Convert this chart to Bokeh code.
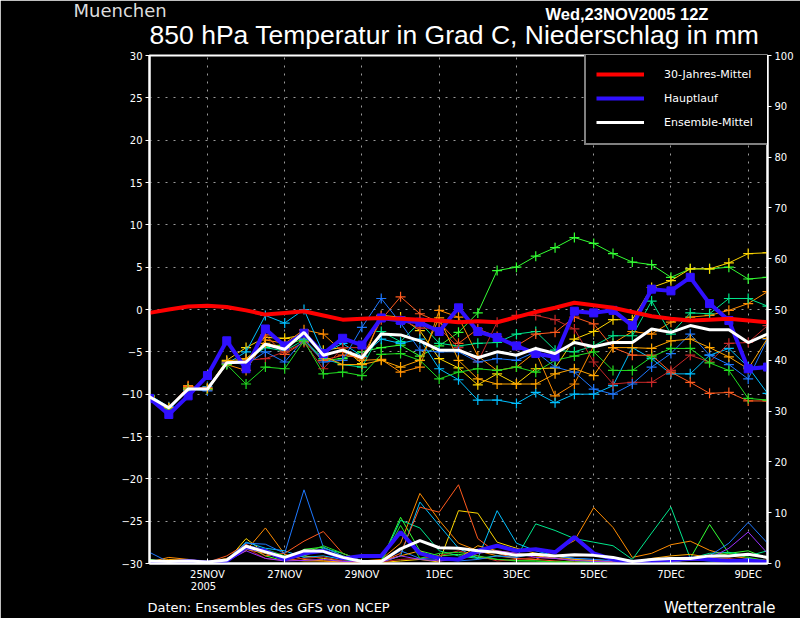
import numpy as np
from bokeh.plotting import figure
from bokeh.models import (Range1d, LinearAxis, FixedTicker, SingleIntervalTicker,
                          Legend, LegendItem, Label)
from bokeh.embed import file_html
from bokeh.resources import INLINE

# time axis: days after 23NOV2005 00Z, 12-hourly from 23NOV 12Z to 9DEC 12Z
days = np.arange(0.5, 16.51, 0.5)
tick_days = [2, 4, 6, 8, 10, 12, 14, 16]
tick_labels = ["25NOV", "27NOV", "29NOV", "1DEC", "3DEC", "5DEC", "7DEC", "9DEC"]
year_label = "2005"

# 850 hPa temperature (deg C)
climate = [-0.4, 0.0, 0.35, 0.45, 0.3, -0.1, -0.6, -0.4, -0.2, -0.7, -1.2, -1.1, -1.0, -1.1, -1.2,
           -1.3, -1.5, -1.4, -1.5, -0.9, -0.3, 0.2, 0.8, 0.5, 0.2, -0.3, -0.8, -1.1, -1.3, -1.2,
           -1.1, -1.3, -1.5]
haupt = [-10.5, -12.4, -10.2, -7.8, -3.7, -7.0, -2.3, -4.3, -2.8, -5.2, -3.4, -4.2, -1.0, -1.3,
         -1.5, -2.6, 0.2, -2.6, -3.3, -4.3, -5.2, -5.6, -0.2, -0.4, -0.1, -1.9, 2.4, 2.2, 3.8,
         0.7, -1.3, -7.0, -6.8]
ens_mean = [-10.3, -11.6, -9.4, -9.4, -6.3, -6.2, -4.1, -4.7, -2.7, -5.4, -4.8, -5.7, -2.9, -3.0,
            -3.7, -4.8, -4.8, -5.7, -5.0, -5.4, -4.6, -5.2, -3.9, -4.4, -3.9, -3.9, -2.3, -2.7,
            -1.9, -2.4, -2.4, -3.9, -2.9]

member_colors = ["#33ff33", "#ffd700", "#ff8c00", "#00e68c", "#00bfff",
                 "#ff5a1e", "#c82828", "#1e78ff", "#22dd22", "#ffa500"]
members = [
    [-10.4, -11.8, -9.5, -9.4, -6.4, -5.8, -4.3, -4.2, -3.5, -6.0, -5.8, -5.0, -4.5, -4.2, -5.5,
     -4.3, -2.7, -0.4, 4.6, 5.0, 6.3, 7.3, 8.5, 7.8, 6.6, 5.6, 5.3, 3.8, 4.8, 4.8, 5.0, 3.6, 3.8],
    [-10.2, -11.6, -9.2, -9.3, -6.0, -4.5, -3.3, -3.4, -3.0, -4.8, -4.5, -6.4, -0.7, -0.9, -2.5,
     -5.8, -6.9, -8.9, -7.6, -8.8, -7.0, -6.9, -3.5, -2.6, -1.2, -1.2, 2.6, 3.4, 4.8, 4.8, 5.5,
     6.6, 6.7],
    [-10.3, -11.9, -9.0, -9.5, -6.5, -7.2, -3.6, -4.0, -2.4, -2.9, -5.0, -6.0, -5.9, -7.4, -6.8,
     -0.1, -0.9, -5.5, -7.2, -6.8, -5.0, -10.2, -8.8, -4.3, -4.0, -2.6, -2.9, -1.5, -0.9, -0.7,
     -0.1, 0.7, 2.1],
    [-10.2, -11.7, -9.4, -9.3, -6.2, -6.0, -4.5, -4.9, -3.6, -5.8, -6.5, -6.8, -2.6, -3.8, -1.5,
     -4.0, -4.3, -4.0, -3.9, -2.9, -2.6, -4.8, -5.0, -4.3, -3.1, -3.1, 1.0, -2.9, -0.4, -0.5,
     1.3, 1.3, 0.4],
    [-10.1, -11.5, -9.6, -9.1, -6.4, -5.0, -0.7, -1.6, 0.0, -5.2, -4.0, -5.5, -3.5, -4.0, -3.5,
     -7.0, -8.3, -10.7, -10.7, -11.1, -9.8, -11.0, -10.0, -10.0, -9.0, -4.5, -5.8, -7.6, -7.6,
     -5.4, -4.6, -6.8, -9.9],
    [-10.4, -11.6, -9.1, -9.5, -6.3, -6.2, -3.0, -5.3, -3.8, -6.0, -5.4, -5.7, -1.2, 1.5, -0.5,
     -1.5, -4.0, -2.3, -3.2, -4.3, -2.9, -2.7, -0.9, -1.7, -4.5, -5.4, -5.4, -7.4, -8.6, -9.9,
     -9.8, -10.8, -10.8],
    [-10.3, -11.8, -9.3, -9.2, -6.2, -6.0, -5.8, -5.0, -3.9, -7.0, -4.5, -4.5, -0.8, -1.2, -2.2,
     -2.2, -4.5, -6.2, -1.5, -0.7, -0.7, -1.2, -2.3, -6.2, -8.8, -8.6, -8.6, -7.2, -5.4, -6.2,
     -4.0, -3.9, -1.9],
    [-10.5, -11.9, -9.4, -9.6, -6.2, -6.5, -5.0, -6.2, -3.5, -6.2, -6.0, -2.1, 1.3, -1.6, -4.8,
     -5.0, -5.0, -6.2, -5.8, -6.0, -5.0, -6.8, -7.4, -9.4, -10.0, -8.8, -6.8, -5.2, -2.9, -5.4,
     -6.5, -8.2, -3.5],
    [-10.2, -11.7, -9.3, -9.4, -6.5, -8.8, -6.8, -7.0, -3.7, -7.6, -7.4, -7.8, -5.3, -5.2, -6.0,
     -8.2, -7.4, -7.0, -7.2, -6.8, -7.4, -6.0, -5.5, -5.0, -7.2, -7.2, -5.6, -4.6, -4.6, -6.3,
     -7.2, -10.5, -10.7],
    [-10.3, -11.6, -9.4, -9.3, -6.1, -5.8, -4.0, -4.5, -2.8, -5.5, -6.5, -6.5, -6.0, -6.8, -6.0,
     -1.0, -6.0, -8.2, -8.8, -8.8, -8.8, -7.6, -7.0, -7.8, -4.5, -4.5, -4.6, -3.7, -3.5, -4.5,
     -5.6, -7.0, -3.4],
]

# precipitation (mm), right axis
precip_members = [
    [0.8, 0.3, 0.2, 0.2, 0.8, 3.5, 1.5, 0.5, 2.8, 3.2, 1.5, 0.3, 0.5, 9.1, 2.5, 1.5, 1.8, 1.2,
     0.8, 0.5, 0.5, 0.3, 0.2, 0.2, 0.3, 0.2, 0.5, 0.8, 1.0, 7.7, 2.0, 2.5, 1.0],
    [0.2, 0.5, 0.8, 0.3, 0.5, 4.9, 2.0, 0.8, 1.5, 1.0, 0.5, 0.3, 0.2, 0.5, 0.8, 0.3, 10.4, 9.9,
     4.2, 3.0, 2.0, 1.5, 0.8, 0.5, 0.3, 0.2, 0.5, 0.8, 1.2, 0.8, 0.5, 0.8, 0.5],
    [0.3, 1.2, 0.8, 0.3, 0.8, 2.5, 7.0, 1.8, 0.8, 0.5, 0.3, 0.5, 0.8, 4.0, 13.8, 8.5, 4.0, 2.5,
     1.5, 1.0, 0.8, 2.5, 4.5, 11.0, 7.1, 1.2, 2.0, 3.7, 4.4, 2.6, 1.5, 1.0, 0.6],
    [0.5, 0.3, 0.2, 0.3, 0.5, 3.0, 2.5, 1.0, 1.5, 3.0, 2.0, 0.5, 0.5, 8.5, 7.0, 2.5, 1.5, 1.0,
     1.5, 1.2, 7.8, 6.5, 4.9, 4.2, 3.5, 0.8, 6.0, 11.1, 1.0, 2.0, 2.2, 1.5, 2.5],
    [0.2, 0.3, 0.5, 0.2, 0.6, 4.2, 3.0, 2.5, 1.2, 1.5, 0.8, 0.3, 0.2, 1.5, 12.1, 7.5, 3.0, 1.0,
     10.4, 4.0, 2.5, 1.5, 1.0, 0.8, 0.5, 0.3, 0.5, 0.3, 0.8, 0.5, 0.3, 1.0, 0.5],
    [0.2, 0.5, 0.3, 0.2, 1.5, 3.8, 1.5, 2.0, 4.4, 6.3, 2.0, 0.5, 0.3, 2.0, 11.1, 10.1, 15.5, 4.9,
     2.0, 1.0, 0.8, 0.5, 0.3, 0.5, 0.3, 0.2, 0.3, 0.5, 0.8, 0.6, 0.5, 0.8, 0.5],
    [0.3, 0.2, 0.5, 0.2, 0.6, 3.0, 1.0, 0.6, 1.0, 1.3, 0.5, 0.2, 0.3, 0.8, 1.0, 1.5, 2.5, 1.5,
     0.5, 0.8, 1.2, 1.0, 0.5, 0.8, 0.3, 0.2, 0.3, 0.5, 0.8, 0.6, 1.0, 0.5, 0.3],
    [2.2, 0.3, 0.2, 0.2, 0.8, 4.0, 3.8, 2.0, 14.5, 3.2, 1.5, 0.6, 0.3, 2.5, 1.0, 0.8, 0.5, 0.8,
     1.5, 1.2, 2.0, 1.5, 1.0, 0.8, 0.5, 0.3, 0.5, 0.3, 0.8, 1.5, 4.0, 8.1, 4.0],
    [0.5, 0.2, 0.3, 0.2, 0.5, 3.5, 2.8, 1.5, 2.0, 3.5, 2.0, 0.5, 0.3, 7.5, 1.0, 2.0, 2.2, 1.5,
     0.8, 0.6, 0.5, 0.3, 0.5, 0.3, 0.2, 0.2, 0.3, 0.5, 0.6, 1.5, 2.0, 1.2, 0.5],
    [0.3, 0.8, 0.6, 0.3, 1.0, 2.8, 2.0, 0.8, 0.5, 0.5, 0.3, 0.2, 0.5, 1.5, 2.5, 0.5, 1.0, 3.5,
     2.5, 2.0, 1.5, 1.0, 0.8, 0.5, 0.3, 0.2, 1.0, 1.5, 1.8, 1.2, 0.8, 0.6, 0.3],
]
precip_violet = [0.3, 0.2, 0.3, 0.2, 0.4, 2.5, 1.0, 0.5, 0.6, 0.8, 0.4, 0.3, 0.3, 1.5, 0.8, 0.5,
                 0.8, 2.0, 2.5, 2.0, 1.2, 1.0, 0.6, 0.4, 0.3, 0.2, 0.3, 0.4, 0.6, 1.0, 3.0, 6.2,
                 2.0]
precip_haupt = [0.3, 0.2, 0.5, 0.2, 0.5, 3.2, 2.5, 0.8, 2.0, 2.5, 1.0, 1.5, 1.5, 6.2, 2.0, 1.0,
                0.8, 2.5, 3.5, 2.5, 2.8, 2.2, 5.2, 2.0, 0.8, 0.3, 0.5, 0.8, 1.0, 0.8, 0.5, 0.6,
                0.3]
precip_mean = [0.5, 0.4, 0.5, 0.3, 0.7, 3.4, 2.3, 1.2, 2.5, 2.4, 1.2, 0.4, 0.4, 2.9, 4.5, 3.1,
               3.0, 2.5, 2.2, 1.6, 1.8, 1.5, 1.7, 1.6, 1.2, 0.4, 0.8, 1.0, 1.0, 1.5, 1.5, 1.8,
               1.2]

FONT = "DejaVu Sans"
SANS = "Liberation Sans"

p = figure(frame_width=618, frame_height=508, min_border_left=145, min_border_right=37,
           min_border_top=55, min_border_bottom=55,
           x_range=Range1d(0.5, 16.5), y_range=Range1d(-30, 30),
           output_backend="svg", toolbar_location=None, tools="")
p.background_fill_color = "black"
p.border_fill_color = "black"
p.outline_line_color = "white"
p.outline_line_width = 2
p.extra_y_ranges = {"precip": Range1d(0, 100)}

# axes
p.xaxis.ticker = FixedTicker(ticks=tick_days)
p.xaxis.major_label_overrides = dict(zip(tick_days, tick_labels))
p.xaxis.major_tick_in = 5
p.xaxis.major_tick_out = 0
p.xaxis.major_label_standoff = 5
p.yaxis.ticker = SingleIntervalTicker(interval=5, num_minor_ticks=0)
p.yaxis.major_tick_in = 0
p.yaxis.major_tick_out = 4
p.yaxis.major_label_standoff = 3

right = LinearAxis(y_range_name="precip", ticker=SingleIntervalTicker(interval=10, num_minor_ticks=0))
right.major_tick_in = 0
right.major_tick_out = 4
right.major_label_standoff = 3
p.add_layout(right, "right")

for ax in p.axis:
    ax.axis_line_color = "white"
    ax.axis_line_width = 2
    ax.major_tick_line_color = "white"
    ax.minor_tick_line_color = None
    ax.major_label_text_color = "white"
    ax.major_label_text_font = FONT
    ax.major_label_text_font_size = "10px"

p.xgrid.ticker = FixedTicker(ticks=tick_days)
p.grid.grid_line_color = "#9a9a9a"
p.grid.grid_line_dash = "2 6"
p.grid.grid_line_width = 1

# precipitation lines
for col, vals in zip(member_colors, precip_members):
    p.line(days, vals, y_range_name="precip", color=col, line_width=1)
p.line(days, precip_violet, y_range_name="precip", color="#9a30ff", line_width=1)
p.line(days, precip_haupt, y_range_name="precip", color="#3010ff", line_width=4)
p.line(days, precip_mean, y_range_name="precip", color="white", line_width=3)

# ensemble members
for col, vals in zip(member_colors, members):
    p.line(days, vals, color=col, line_width=1)
    p.scatter(days, vals, marker="cross", size=10, line_color=col, line_width=1.2)

r_haupt = p.line(days, haupt, color="#3010ff", line_width=4)
p.scatter(days, haupt, marker="square", size=8, color="#3010ff")
r_mean = p.line(days, ens_mean, color="white", line_width=3)
r_clim = p.line(days, climate, color="#ff0000", line_width=4)

legend = Legend(items=[LegendItem(label="30-Jahres-Mittel", renderers=[r_clim]),
                       LegendItem(label="Hauptlauf", renderers=[r_haupt]),
                       LegendItem(label="Ensemble-Mittel", renderers=[r_mean])],
                location=(435, 418), padding=10, spacing=2, glyph_width=48, glyph_height=22,
                label_height=22, label_width=95, label_standoff=20, margin=0)
legend.background_fill_color = "black"
legend.background_fill_alpha = 1
legend.border_line_color = "white"
legend.border_line_width = 2
legend.label_text_color = "white"
legend.label_text_font = FONT
legend.label_text_font_size = "11px"
p.add_layout(legend, "center")

# texts, in canvas pixels. They sit in the side panels (not clipped to the frame);
# each one adds its own size to its panel, so they are spread over sides with room left.
# the label is drawn about 0.4 em lower than y, hence the small offsets below
def text(x, y, s, where, color="white", **kw):
    lab = Label(x=x, y=y, x_units="canvas", y_units="canvas", text=s,
                text_baseline="alphabetic", text_color=color, **kw)
    p.add_layout(lab, where)

text(454, 34.5, "850 hPa Temperatur in Grad C, Niederschlag in mm", "above",
     text_align="center", text_font=SANS, text_font_size="26.5px")
text(545, 13.5, "Wed,23NOV2005 12Z", "above", text_font=SANS, text_font_size="16.5px",
     text_font_style="bold")
text(73, 10, "Muenchen", "left", color="#dddddd", text_font=FONT, text_font_size="18px")
text(203, 585, year_label, "left", text_align="center", text_font=FONT, text_font_size="10px")
text(147, 607, "Daten: Ensembles des GFS von NCEP", "below", text_font=FONT,
     text_font_size="13px")
text(775, 607, "Wetterzentrale", "below", text_align="right", text_font=FONT,
     text_font_size="15px")

open("out.html", "w").write(file_html(p, INLINE))
